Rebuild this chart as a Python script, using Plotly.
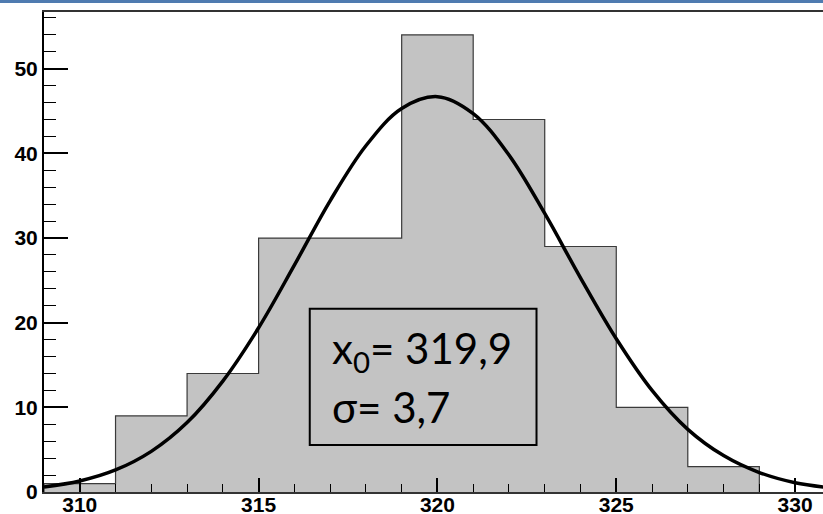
import plotly.graph_objects as go

# histogram: bin left edges (width 2) and counts
bin_edges = [309, 311, 313, 315, 317, 319, 321, 323, 325, 327]
counts = [1, 9, 14, 30, 30, 54, 44, 29, 10, 3]
bin_width = 2

# gaussian fit curve
fit_x = [309, 310, 311, 312, 313, 314, 315, 316, 317, 318, 319, 320,
         321, 322, 323, 324, 325, 326, 327, 328, 329, 330, 331]
fit_y = [0.6, 1.3, 2.6, 4.8, 8.2, 13.1, 19.4, 26.8, 34.4, 40.9, 45.3, 46.7,
         44.7, 39.8, 32.9, 25.3, 18.1, 12.0, 7.4, 4.3, 2.3, 1.1, 0.5]

fit_x0 = "319,9"
fit_sigma = "3,7"

centers = [e + bin_width / 2 for e in bin_edges]

fig = go.Figure()

# filled bars
fig.add_trace(go.Bar(
    x=centers, y=counts, width=bin_width,
    marker=dict(color="#c3c3c3", line=dict(width=0)),
    hoverinfo="skip"
))

# outline of the histogram (step contour, like ROOT)
step_x = [bin_edges[0]] + bin_edges + [bin_edges[-1] + bin_width]
step_y = [0] + counts + [0]
fig.add_trace(go.Scatter(
    x=step_x, y=step_y, mode="lines", line_shape="hv",
    line=dict(color="#3a3a3a", width=1.2), hoverinfo="skip"
))

# fit curve
fig.add_trace(go.Scatter(
    x=fit_x, y=fit_y, mode="lines", line_shape="spline",
    line=dict(color="black", width=3.5), hoverinfo="skip"
))

tick_font = dict(family="Liberation Sans, Arial", size=21, color="black", weight="bold")

fig.update_layout(
    width=823, height=514,
    margin=dict(l=44, r=0, t=12, b=22),
    paper_bgcolor="white", plot_bgcolor="white",
    showlegend=False, bargap=0,
    xaxis=dict(
        range=[309, 330.78], showgrid=False, zeroline=False,
        showline=True, linecolor="#333", linewidth=2, mirror=True,
        ticks="inside", ticklen=14, tickwidth=1.5, tickcolor="black",
        tick0=310, dtick=5, tickfont=tick_font, automargin=False,
        ticklabelstandoff=-7,
        minor=dict(ticks="inside", ticklen=8, tickwidth=1.2, tickcolor="black",
                   dtick=1, tick0=309, showgrid=False),
    ),
    yaxis=dict(
        range=[0, 56.7], showgrid=False, zeroline=False,
        showline=True, linecolor="black", linewidth=2,
        ticks="inside", ticklen=24, tickwidth=1.5, tickcolor="black",
        tick0=0, dtick=10, tickfont=tick_font, automargin=False,
        minor=dict(ticks="inside", ticklen=12, tickwidth=1.2, tickcolor="black",
                   dtick=2, tick0=0, showgrid=False),
    ),
)

# stats box
fig.add_shape(type="rect", xref="x", yref="y",
              x0=316.43, x1=322.77, y0=5.55, y1=21.66,
              line=dict(color="black", width=2), fillcolor="rgba(0,0,0,0)")
box_font = dict(family="Lato, Open Sans", size=42, color="black")
fig.add_annotation(x=316.99, y=16.6, xref="x", yref="y", xanchor="left", yanchor="middle",
                   text="x<sub>0</sub>= " + fit_x0, showarrow=False, font=box_font)
fig.add_annotation(x=316.99, y=10.0, xref="x", yref="y", xanchor="left", yanchor="middle",
                   text="σ= " + fit_sigma, showarrow=False, font=box_font)

# blue line of the slide header
fig.add_shape(type="line", xref="paper", yref="paper", x0=-0.06, x1=1.0,
              y0=1.0219, y1=1.0219, line=dict(color="#4f7bb0", width=3))

fig.write_html("out.html", config={"displayModeBar": False},
               post_script="document.body.style.margin='0';")
